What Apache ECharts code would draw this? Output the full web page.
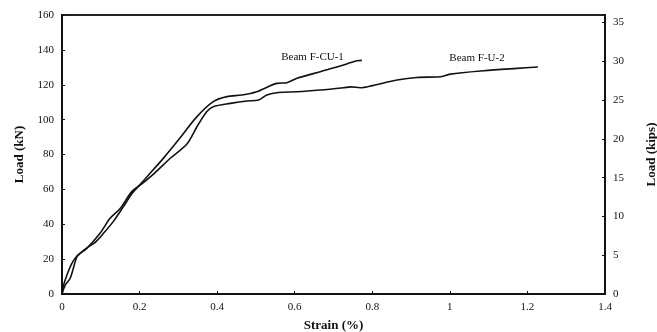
<!DOCTYPE html>
<html>
<head>
<meta charset="utf-8">
<script src="https://cdn.jsdelivr.net/npm/echarts@6/dist/echarts.min.js"></script>
<style>
  html, body { margin: 0; padding: 0; background: #fff; }
  #chart { width: 657px; height: 332px; }
</style>
</head>
<body>
<div id="chart"></div>
<script>
// Load–strain curves for the two beams: [strain (%), load (kN)]
const beamFCU1 = [
  [0, 0], [0.004, 5], [0.012, 10.5], [0.022, 16], [0.032, 20], [0.045, 23],
  [0.064, 26.5], [0.085, 29.5], [0.107, 34.8], [0.132, 41.5], [0.158, 50],
  [0.18, 57.5], [0.2, 62.5], [0.227, 69.2], [0.26, 77.5], [0.3, 88.3],
  [0.348, 101.7], [0.39, 110.3], [0.425, 113.2], [0.464, 114.1], [0.502, 116],
  [0.554, 120.8], [0.58, 121.2], [0.606, 123.7], [0.666, 127.5], [0.717, 130.7],
  [0.76, 133.8], [0.773, 134]
];
const beamFU2 = [
  [0, 0], [0.008, 5], [0.021, 9], [0.034, 18.5], [0.04, 22], [0.064, 26.2],
  [0.098, 34.8], [0.124, 43.4], [0.15, 49.1], [0.18, 58.7], [0.205, 63],
  [0.238, 69.2], [0.28, 78], [0.322, 86], [0.348, 95.9], [0.373, 104.5],
  [0.39, 107.4], [0.434, 109.3], [0.477, 110.7], [0.507, 111.2], [0.528, 114.1],
  [0.558, 115.6], [0.606, 116], [0.666, 117], [0.726, 118.3], [0.745, 118.8],
  [0.769, 118.3], [0.8, 119.5], [0.864, 122.7], [0.915, 124.2], [0.975, 124.6],
  [1.001, 126.1], [1.087, 128], [1.173, 129.4], [1.227, 130.2]
];
const seriesNames = ['Beam F-CU-1', 'Beam F-U-2'];
// label anchor points in data coordinates [strain, load]
const labelAt = [[0.646, 136], [1.07, 135.5]];

const KN_PER_KIP = 4.448;
const loadMaxKN = 160;

const serif = '"Liberation Serif", "DejaVu Serif", serif';
const axisLineStyle = { color: '#111', width: 2 };
const tickLabel = { color: '#111', fontFamily: serif, fontSize: 11 };
const nameStyle = { color: '#111', fontFamily: serif, fontSize: 13, fontWeight: 'bold' };

function curve(name, data, at) {
  return {
    name: name,
    type: 'line',
    data: data,
    showSymbol: false,
    smooth: 0.3,
    lineStyle: { color: '#111', width: 1.6 },
    markPoint: {
      symbol: 'circle',
      symbolSize: 0,
      data: [{ coord: at }],
      label: {
        show: true,
        formatter: name,
        position: 'inside',
        color: '#111',
        fontFamily: serif,
        fontSize: 11
      }
    }
  };
}

const chart = echarts.init(document.getElementById('chart'));
chart.setOption({
  animation: false,
  backgroundColor: '#fff',
  grid: {
    left: 62, right: 52, top: 15, bottom: 38,
    outerBoundsMode: 'none', containLabel: false,
    show: true, borderColor: '#222', borderWidth: 2
  },
  xAxis: {
    type: 'value', min: 0, max: 1.4, interval: 0.2,
    name: 'Strain (%)', nameLocation: 'middle', nameGap: 25, nameTextStyle: nameStyle,
    axisLine: { show: true, onZero: false, lineStyle: axisLineStyle },
    axisTick: { show: true, inside: true, length: 3, lineStyle: { color: '#111' } },
    axisLabel: { ...tickLabel, margin: 8 },
    splitLine: { show: false }
  },
  yAxis: [
    {
      type: 'value', min: 0, max: loadMaxKN, interval: 20,
      name: 'Load (kN)', nameLocation: 'middle', nameGap: 36, nameTextStyle: nameStyle,
      axisLine: { show: true, lineStyle: axisLineStyle },
      axisTick: { show: true, inside: true, length: 3, lineStyle: { color: '#111' } },
      axisLabel: { ...tickLabel, margin: 8 },
      splitLine: { show: false }
    },
    {
      type: 'value', position: 'right', min: 0, max: loadMaxKN / KN_PER_KIP, interval: 5,
      name: 'Load (kips)', nameLocation: 'middle', nameGap: 40, nameRotate: 90,
      nameTextStyle: nameStyle,
      axisLine: { show: true, lineStyle: axisLineStyle },
      axisTick: { show: true, inside: true, length: 3, lineStyle: { color: '#111' } },
      axisLabel: { ...tickLabel, margin: 8 },
      splitLine: { show: false }
    }
  ],
  series: [
    curve(seriesNames[0], beamFCU1, labelAt[0]),
    curve(seriesNames[1], beamFU2, labelAt[1])
  ]
});
</script>
</body>
</html>
